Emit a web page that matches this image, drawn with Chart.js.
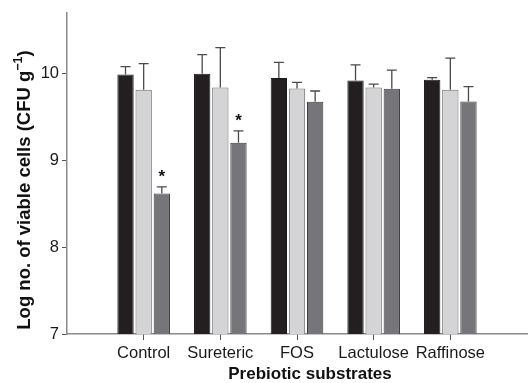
<!DOCTYPE html>
<html>
<head>
<meta charset="utf-8">
<script src="https://cdn.jsdelivr.net/npm/chart.js@4/dist/chart.umd.min.js"></script>
<style>
html,body{margin:0;padding:0;background:#fff;}
canvas{display:block;}
</style>
</head>
<body>
<canvas id="c" width="531" height="383"></canvas>
<script>
// ---- data ----
const categories = ['Control', 'Sureteric', 'FOS', 'Lactulose', 'Raffinose'];
const seriesA = [9.99, 10.00, 9.95, 9.92, 9.93];      // black bars
const seriesB = [9.815, 9.84, 9.83, 9.84, 9.815];     // light grey bars
const seriesC = [8.62, 9.205, 9.675, 9.825, 9.68];    // dark grey bars
const errA = [0.09, 0.22, 0.18, 0.18, 0.025];
const errB = [0.30, 0.46, 0.07, 0.04, 0.365];
const errC = [0.075, 0.135, 0.125, 0.215, 0.17];
const significantC = [true, true, false, false, false];
const yTickValues = [7, 8, 9, 10];
const yMin = 7, yMax = 10.7;

const FONT = "'Liberation Sans', Arial, Helvetica, sans-serif";

// category axis padded with empty slots at both ends
const labels = [''].concat(categories, ['']);
const pad = arr => [null].concat(arr, [null]);

const errorBarPlugin = {
  id: 'errorBars',
  afterDatasetsDraw(chart) {
    const ctx = chart.ctx;
    const y = chart.scales.y;
    ctx.save();
    chart.data.datasets.forEach((ds, di) => {
      const meta = chart.getDatasetMeta(di);
      ds.errors.forEach((e, i) => {
        const bar = meta.data[i];
        const v = ds.data[i];
        if (!bar || v == null || e == null) return;
        const yTop = y.getPixelForValue(v + e);
        const yBar = y.getPixelForValue(v);
        ctx.strokeStyle = '#4a4a4a';
        ctx.lineWidth = 1.3;
        ctx.beginPath();
        ctx.moveTo(bar.x, yBar);
        ctx.lineTo(bar.x, yTop);
        ctx.moveTo(bar.x - 5, yTop);
        ctx.lineTo(bar.x + 5, yTop);
        ctx.stroke();
        if (ds.stars && ds.stars[i]) {
          ctx.fillStyle = '#111';
          ctx.font = 'bold 17px ' + FONT;
          ctx.textAlign = 'center';
          ctx.textBaseline = 'middle';
          ctx.fillText('*', bar.x, yTop - 10);
        }
      });
    });
    ctx.restore();
  }
};

const titlesPlugin = {
  id: 'axisTitles',
  afterDraw(chart) {
    const ctx = chart.ctx;
    ctx.save();
    ctx.fillStyle = '#111';
    // x title
    ctx.font = 'bold 17px ' + FONT;
    ctx.textAlign = 'center';
    ctx.textBaseline = 'middle';
    ctx.fillText('Prebiotic substrates', 310, 374);
    // y title with superscript
    const main = 'Log no. of viable cells (CFU g';
    const sup = '\u22121';
    const close = ')';
    const fMain = 'bold 18.5px ' + FONT;
    const fSup = 'bold 12.5px ' + FONT;
    ctx.font = fMain;
    const wMain = ctx.measureText(main).width;
    const wClose = ctx.measureText(close).width;
    ctx.font = fSup;
    const wSup = ctx.measureText(sup).width;
    const total = wMain + wSup + wClose;
    ctx.translate(23, 190);
    ctx.rotate(-Math.PI / 2);
    ctx.textAlign = 'left';
    ctx.textBaseline = 'alphabetic';
    let x = -total / 2;
    ctx.font = fMain;
    ctx.fillText(main, x, 6.5);
    x += wMain;
    ctx.font = fSup;
    ctx.fillText(sup, x, -1.5);
    x += wSup;
    ctx.font = fMain;
    ctx.fillText(close, x, 6.5);
    ctx.restore();
  }
};

new Chart(document.getElementById('c'), {
  type: 'bar',
  data: {
    labels: labels,
    datasets: [
      { data: pad(seriesA), errors: pad(errA), backgroundColor: '#231f20', borderColor: '#1a1a1a', borderWidth: 1 },
      { data: pad(seriesB), errors: pad(errB), backgroundColor: '#d4d4d6', borderColor: '#6e6e6e', borderWidth: 1 },
      { data: pad(seriesC), errors: pad(errC), stars: pad(significantC), backgroundColor: '#76767a', borderColor: '#3c3c3c', borderWidth: 1 }
    ]
  },
  options: {
    responsive: false,
    devicePixelRatio: 1,
    animation: false,
    layout: { padding: { top: 7, right: 0, left: 0, bottom: 0 } },
    categoryPercentage: 0.71,
    barPercentage: 0.9,
    plugins: { legend: { display: false }, tooltip: { enabled: false } },
    scales: {
      x: {
        type: 'category',
        offset: false,
        grid: {
          offset: false,
          drawOnChartArea: false,
          tickLength: 6,
          tickColor: ctx => (ctx.index > 0 && ctx.index < labels.length - 1) ? '#555' : 'rgba(0,0,0,0)',
          tickWidth: 1
        },
        border: { color: '#8a8a8a', width: 1.5 },
        ticks: { font: { family: FONT, size: 16.5 }, color: '#1a1a1a', padding: 4, autoSkip: false, maxRotation: 0 },
        afterFit: s => { s.height = 49; }
      },
      y: {
        min: yMin,
        max: yMax,
        afterBuildTicks: s => { s.ticks = yTickValues.map(v => ({ value: v })); },
        grid: { drawOnChartArea: false, tickLength: 5, tickColor: '#555', tickWidth: 1 },
        border: { color: '#8a8a8a', width: 1.5 },
        ticks: { font: { family: FONT, size: 16.5 }, color: '#1a1a1a', padding: 3 },
        afterFit: s => { s.width = 67; }
      }
    }
  },
  plugins: [errorBarPlugin, titlesPlugin]
});
</script>
</body>
</html>
